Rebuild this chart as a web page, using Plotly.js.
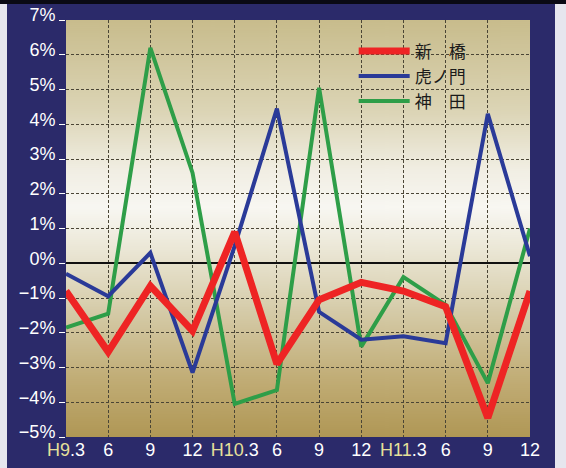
<!DOCTYPE html>
<html><head><meta charset="utf-8">
<script src="https://cdn.plot.ly/plotly-3.0.1.min.js"></script>
<style>
html,body{margin:0;padding:0;background:#e6e6ee;width:566px;height:468px;overflow:hidden;}
#topbar{position:absolute;left:0;top:0;width:566px;height:4px;background:#0a0a14;z-index:5;}
#chart{position:absolute;left:7px;top:0px;width:548px;height:468px;}
</style></head>
<body><div id="topbar"></div><div id="chart"></div>
<script>
const categories = ['<span style="color:#e6e09a">H9</span>.3','6','9','12','<span style="color:#e6e09a">H10</span>.3','6','9','12','<span style="color:#e6e09a">H11</span>.3','6','9','12'];
const shimbashi = [-0.8,-2.55,-0.65,-1.95,0.9,-2.9,-1.05,-0.55,-0.8,-1.25,-4.45,-0.8];
const toranomon = [-0.3,-0.95,0.3,-3.15,0.5,4.45,-1.4,-2.2,-2.1,-2.3,4.3,0.2];
const kanda = [-1.85,-1.45,6.2,2.6,-4.05,-3.65,5.05,-2.4,-0.4,-1.2,-3.45,1.0];
const seriesNames = ['新　橋','虎ノ門','神　田'];
const yTicks = [-5,-4,-3,-2,-1,0,1,2,3,4,5,6,7];
const yTickLabels = ['\u22125%','\u22124%','\u22123%','\u22122%','\u22121%','0%','1%','2%','3%','4%','5%','6%','7%'];

const xIdx = categories.map((_, i) => i);

// gradient background for plot area
const cv = document.createElement('canvas');
cv.width = 8; cv.height = 420;
const cx = cv.getContext('2d');
const g = cx.createLinearGradient(0,0,0,420);
g.addColorStop(0.00,'#c8bc8c');
g.addColorStop(0.22,'#dcd5b6');
g.addColorStop(0.36,'#f1eee3');
g.addColorStop(0.45,'#f8f7f2');
g.addColorStop(0.55,'#ebe7d6');
g.addColorStop(0.70,'#d5cba8');
g.addColorStop(0.86,'#c1ad76');
g.addColorStop(1.00,'#b09755');
cx.fillStyle = g; cx.fillRect(0,0,8,420);
const bgURL = cv.toDataURL();

const traces = [
  {x:xIdx, y:kanda, name:seriesNames[2], legendgroup:'c', mode:'lines', line:{color:'#2e9e48', width:4}},
  {x:xIdx, y:toranomon, name:seriesNames[1], legendgroup:'b', mode:'lines', line:{color:'#2a3a98', width:4}},
  {x:xIdx, y:shimbashi, name:seriesNames[0], legendgroup:'a', mode:'lines', line:{color:'#ee2424', width:7}}
];

const layout = {
  width:548, height:468,
  margin:{l:59, r:25, t:20, b:31},
  paper_bgcolor:'#2b2a6a',
  plot_bgcolor:'rgba(0,0,0,0)',
  showlegend:true,
  legend:{x:0.62, y:0.968, xanchor:'left', yanchor:'top', bgcolor:'rgba(0,0,0,0)', traceorder:'reversed',
          tracegroupgap:5, itemwidth:51,
          font:{family:'"Noto Sans CJK JP", sans-serif', size:17, color:'#1a1a1a'}},
  images:[{source:bgURL, xref:'paper', yref:'paper', x:0, y:1, sizex:1, sizey:1, sizing:'stretch', xanchor:'left', yanchor:'top', layer:'below'}],
  xaxis:{range:[0,11], tickmode:'array', tickvals:xIdx, ticktext:categories, showgrid:true,
         gridcolor:'#4a4535', griddash:'3px,2px', gridwidth:1, zeroline:false, ticks:'',
         tickfont:{family:'"Liberation Sans", Arial, sans-serif', size:18, color:'#ffffff'}, fixedrange:true},
  yaxis:{range:[-5,7], tickmode:'array', tickvals:yTicks, ticktext:yTickLabels, showgrid:true,
         gridcolor:'#4a4535', griddash:'3px,2px', gridwidth:1,
         zeroline:true, zerolinecolor:'#111', zerolinewidth:2,
         ticks:'outside', ticklen:6, tickcolor:'#ffffff', tickwidth:1, ticklabelshift:-5, ticklabelstandoff:0,
         ticklabeloverflow:'allow',
         tickfont:{family:'"Liberation Sans", Arial, sans-serif', size:18, color:'#ffffff'}, fixedrange:true}
};
Plotly.newPlot('chart', traces, layout, {displayModeBar:false, staticPlot:true});
</script></body></html>
